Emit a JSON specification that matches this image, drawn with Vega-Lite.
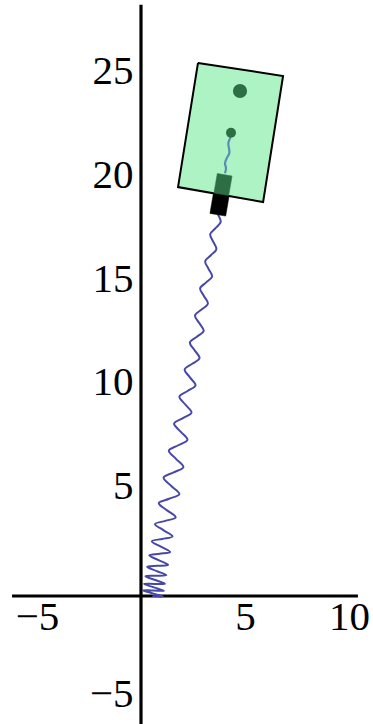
{
  "$schema": "https://vega.github.io/schema/vega-lite/v6.json",
  "width": 373,
  "height": 724,
  "padding": 0,
  "autosize": {"type": "none"},
  "background": "white",
  "config": {"view": {"stroke": null}, "font": "Liberation Serif"},
  "datasets": {
    "axes": [
      {"x": -6.2, "x2": 10.43, "y": 0, "y2": 0},
      {"x": 0, "x2": 0, "y": -6.2, "y2": 28.42}
    ],
    "spring": [
      {"i": 0, "x": 0.550, "y": 0.000},
      {"i": 1, "x": 1.052, "y": -0.024},
      {"i": 2, "x": 0.571, "y": 0.124},
      {"i": 3, "x": 0.092, "y": 0.276},
      {"i": 4, "x": 0.595, "y": 0.262},
      {"i": 5, "x": 1.097, "y": 0.252},
      {"i": 6, "x": 0.621, "y": 0.414},
      {"i": 7, "x": 0.147, "y": 0.579},
      {"i": 8, "x": 0.650, "y": 0.582},
      {"i": 9, "x": 1.151, "y": 0.589},
      {"i": 10, "x": 0.682, "y": 0.767},
      {"i": 11, "x": 0.215, "y": 0.950},
      {"i": 12, "x": 0.717, "y": 0.972},
      {"i": 13, "x": 1.218, "y": 1.000},
      {"i": 14, "x": 0.756, "y": 1.199},
      {"i": 15, "x": 0.297, "y": 1.403},
      {"i": 16, "x": 0.799, "y": 1.449},
      {"i": 17, "x": 1.299, "y": 1.503},
      {"i": 18, "x": 0.846, "y": 1.726},
      {"i": 19, "x": 0.398, "y": 1.957},
      {"i": 20, "x": 0.898, "y": 2.032},
      {"i": 21, "x": 1.398, "y": 2.116},
      {"i": 22, "x": 0.956, "y": 2.370},
      {"i": 23, "x": 0.521, "y": 2.632},
      {"i": 24, "x": 1.021, "y": 2.744},
      {"i": 25, "x": 1.518, "y": 2.866},
      {"i": 26, "x": 1.091, "y": 3.157},
      {"i": 27, "x": 0.670, "y": 3.458},
      {"i": 28, "x": 1.170, "y": 3.613},
      {"i": 29, "x": 1.666, "y": 3.781},
      {"i": 30, "x": 1.256, "y": 4.117},
      {"i": 31, "x": 0.854, "y": 4.466},
      {"i": 32, "x": 1.352, "y": 4.675},
      {"i": 33, "x": 1.846, "y": 4.899},
      {"i": 34, "x": 1.457, "y": 5.291},
      {"i": 35, "x": 1.086, "y": 5.691},
      {"i": 36, "x": 1.569, "y": 5.944},
      {"i": 37, "x": 2.038, "y": 6.199},
      {"i": 38, "x": 1.681, "y": 6.596},
      {"i": 39, "x": 1.339, "y": 6.991},
      {"i": 40, "x": 1.793, "y": 7.248},
      {"i": 41, "x": 2.233, "y": 7.509},
      {"i": 42, "x": 1.905, "y": 7.901},
      {"i": 43, "x": 1.591, "y": 8.290},
      {"i": 44, "x": 2.017, "y": 8.553},
      {"i": 45, "x": 2.428, "y": 8.819},
      {"i": 46, "x": 2.129, "y": 9.206},
      {"i": 47, "x": 1.846, "y": 9.590},
      {"i": 48, "x": 2.241, "y": 9.858},
      {"i": 49, "x": 2.621, "y": 10.129},
      {"i": 50, "x": 2.352, "y": 10.510},
      {"i": 51, "x": 2.100, "y": 10.890},
      {"i": 52, "x": 2.464, "y": 11.163},
      {"i": 53, "x": 2.814, "y": 11.439},
      {"i": 54, "x": 2.576, "y": 11.815},
      {"i": 55, "x": 2.351, "y": 12.190},
      {"i": 56, "x": 2.688, "y": 12.468},
      {"i": 57, "x": 3.014, "y": 12.748},
      {"i": 58, "x": 2.800, "y": 13.120},
      {"i": 59, "x": 2.597, "y": 13.491},
      {"i": 60, "x": 2.912, "y": 13.772},
      {"i": 61, "x": 3.216, "y": 14.056},
      {"i": 62, "x": 3.024, "y": 14.425},
      {"i": 63, "x": 2.842, "y": 14.792},
      {"i": 64, "x": 3.136, "y": 15.077},
      {"i": 65, "x": 3.419, "y": 15.364},
      {"i": 66, "x": 3.247, "y": 15.730},
      {"i": 67, "x": 3.085, "y": 16.093},
      {"i": 68, "x": 3.359, "y": 16.382},
      {"i": 69, "x": 3.625, "y": 16.672},
      {"i": 70, "x": 3.471, "y": 17.034},
      {"i": 71, "x": 3.326, "y": 17.395},
      {"i": 72, "x": 3.583, "y": 17.687},
      {"i": 73, "x": 3.830, "y": 17.980},
      {"i": 74, "x": 3.695, "y": 18.339}
    ],
    "panels": [
      {"part": "sail", "i": 0, "x": 2.74, "y": 25.63},
      {"part": "sail", "i": 1, "x": 6.83, "y": 25.00},
      {"part": "sail", "i": 2, "x": 5.87, "y": 18.94},
      {"part": "sail", "i": 3, "x": 1.78, "y": 19.66},
      {"part": "sail", "i": 4, "x": 2.74, "y": 25.63},
      {"part": "anchor", "i": 0, "x": 3.314, "y": 18.395},
      {"part": "anchor", "i": 1, "x": 4.072, "y": 18.265},
      {"part": "anchor", "i": 2, "x": 4.241, "y": 19.251},
      {"part": "anchor", "i": 3, "x": 3.483, "y": 19.381},
      {"part": "anchor", "i": 4, "x": 3.314, "y": 18.395},
      {"part": "mount", "i": 0, "x": 3.507, "y": 19.377},
      {"part": "mount", "i": 1, "x": 4.217, "y": 19.255},
      {"part": "mount", "i": 2, "x": 4.378, "y": 20.191},
      {"part": "mount", "i": 3, "x": 3.668, "y": 20.313},
      {"part": "mount", "i": 4, "x": 3.507, "y": 19.377}
    ],
    "tether": [
      {"i": 0, "x": 4.038, "y": 20.322},
      {"i": 1, "x": 4.087, "y": 20.563},
      {"i": 2, "x": 4.038, "y": 20.803},
      {"i": 3, "x": 4.120, "y": 21.043},
      {"i": 4, "x": 4.245, "y": 21.284},
      {"i": 5, "x": 4.231, "y": 21.524},
      {"i": 6, "x": 4.197, "y": 21.764},
      {"i": 7, "x": 4.279, "y": 22.005},
      {"i": 8, "x": 4.327, "y": 22.274}
    ],
    "dots": [
      {"kind": "pivot", "x": 4.327, "y": 22.274},
      {"kind": "mass", "x": 4.76, "y": 24.28}
    ]
  },
  "encoding": {
    "x": {
      "field": "x",
      "type": "quantitative",
      "scale": {"domain": [-6.779, 11.154], "nice": false, "zero": false},
      "axis": {
        "orient": "bottom",
        "offset": -128,
        "values": [-5, 5, 10],
        "domain": false,
        "ticks": false,
        "grid": false,
        "title": null,
        "labelFont": "Liberation Serif",
        "labelFontSize": 41,
        "labelColor": "black",
        "labelPadding": 1,
        "labelFlush": false,
        "labelOverlap": false,
        "labelBound": false
      }
    },
    "y": {
      "field": "y",
      "type": "quantitative",
      "scale": {"domain": [-6.154, 28.654], "nice": false, "zero": false},
      "axis": {
        "orient": "left",
        "offset": -141,
        "values": [-5, 5, 10, 15, 20, 25],
        "domain": false,
        "ticks": false,
        "grid": false,
        "title": null,
        "labelFont": "Liberation Serif",
        "labelFontSize": 41,
        "labelColor": "black",
        "labelPadding": 8,
        "labelOffset": -5,
        "labelFlush": false,
        "labelOverlap": false,
        "labelBound": false
      }
    }
  },
  "layer": [
    {
      "data": {"name": "axes"},
      "mark": {"type": "rule", "color": "black", "strokeWidth": 3.2},
      "encoding": {"x2": {"field": "x2"}, "y2": {"field": "y2"}}
    },
    {
      "data": {"name": "spring"},
      "mark": {"type": "line", "color": "#4848a8", "strokeWidth": 2, "interpolate": "catmull-rom"},
      "encoding": {"order": {"field": "i", "type": "quantitative"}}
    },
    {
      "data": {"name": "panels"},
      "transform": [{"filter": "datum.part === 'sail'"}],
      "mark": {"type": "line", "fill": "#adf3c4", "stroke": "black", "strokeWidth": 2, "strokeJoin": "miter"},
      "encoding": {"order": {"field": "i", "type": "quantitative"}}
    },
    {
      "data": {"name": "panels"},
      "transform": [{"filter": "datum.part === 'anchor'"}],
      "mark": {"type": "line", "fill": "black", "stroke": "black", "strokeWidth": 0.5},
      "encoding": {"order": {"field": "i", "type": "quantitative"}}
    },
    {
      "data": {"name": "panels"},
      "transform": [{"filter": "datum.part === 'mount'"}],
      "mark": {"type": "line", "fill": "#2e6e44", "stroke": "#2e6e44", "strokeWidth": 0.5},
      "encoding": {"order": {"field": "i", "type": "quantitative"}}
    },
    {
      "data": {"name": "tether"},
      "mark": {"type": "line", "color": "#5a8cb4", "strokeWidth": 2.2, "interpolate": "catmull-rom"},
      "encoding": {"order": {"field": "i", "type": "quantitative"}}
    },
    {
      "data": {"name": "dots"},
      "transform": [{"filter": "datum.kind === 'pivot'"}],
      "mark": {"type": "point", "shape": "circle", "filled": true, "opacity": 1, "color": "#2e6e44", "size": 100}
    },
    {
      "data": {"name": "dots"},
      "transform": [{"filter": "datum.kind === 'mass'"}],
      "mark": {"type": "point", "shape": "circle", "filled": true, "opacity": 1, "color": "#2e6e44", "size": 200}
    }
  ]
}
